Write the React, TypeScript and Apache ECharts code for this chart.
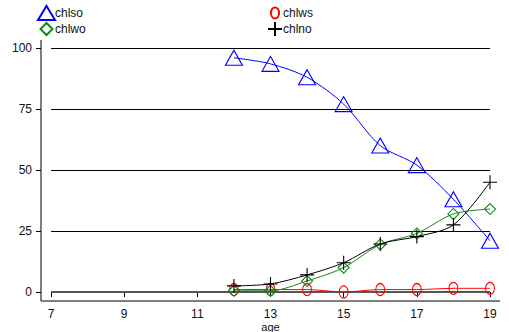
import React, { useEffect, useRef } from "react";
import * as echarts from "echarts";

const ages = [12, 13, 14, 15, 16, 17, 18, 19];
const chlso = [96, 93.5, 88, 77, 60, 52, 38, 21];
const chlws = [1, 1, 1, 0, 1, 1, 1.5, 1.5];
const chlwo = [0.5, 0.5, 4.5, 10, 19.5, 24, 32, 34];
const chlno = [2.5, 3.3, 7, 12, 19.7, 22.7, 27.5, 45];
const xTicks = [7, 9, 11, 13, 15, 17, 19];
const yTicks = [0, 25, 50, 75, 100];

const FONT = "Liberation Sans";
const PLUS = "path://M7,0L7,14M0,7L14,7";
const SMALL_CIRCLE = "path://M0,0M14,14M7,1.5A4,5.5 0 1 1 7,12.5A4,5.5 0 1 1 7,1.5Z";
const SMALL_DIAMOND = "path://M0,0M14,14M7,1L13,7L7,13L1,7Z";

function pts(v: number[]) {
  return ages.map((a, i) => [a, v[i]]);
}

export default function App() {
  const ref = useRef<HTMLDivElement>(null);
  useEffect(() => {
    const chart = echarts.init(ref.current!, null, { renderer: "svg" });
    const mk = (name: string, vals: number[], color: string, symbol: string, size: any, z: number) => ({
      name,
      type: "line",
      data: pts(vals),
      smooth: 0.3,
      symbol,
      symbolSize: size,
      z,
      showAllSymbol: true,
      lineStyle: { color, width: 1 },
      itemStyle: { color: "rgba(255,255,255,0)", borderColor: color, borderWidth: 1.1 },
      emphasis: { disabled: true },
    });
    const legendText = { fontSize: 12, color: "#111", fontFamily: FONT };
    chart.setOption({
      animation: false,
      backgroundColor: "#ffffff",
      textStyle: { fontFamily: FONT },
      grid: { left: 51, right: 19, top: 48, bottom: 40, outerBoundsMode: "none", containLabel: false },
      legend: [
        {
          data: [
            { name: "chlso", icon: "triangle" },
            { name: "chlwo", icon: SMALL_DIAMOND },
          ],
          orient: "vertical",
          left: 37,
          top: 5,
          padding: 0,
          itemGap: 0,
          itemWidth: 17,
          itemHeight: 14,
          textStyle: { ...legendText, padding: [2, 0, 0, -5] },
        },
        {
          data: [
            { name: "chlws", icon: SMALL_CIRCLE },
            { name: "chlno", icon: PLUS },
          ],
          orient: "vertical",
          left: 267,
          top: 5,
          padding: 0,
          itemGap: 0,
          itemWidth: 14,
          itemHeight: 14,
          textStyle: { ...legendText, padding: [2, 0, 0, -4] },
        },
      ],
      xAxis: {
        type: "value",
        min: xTicks[0],
        max: xTicks[xTicks.length - 1],
        interval: 2,
        offset: 9,
        name: "age",
        nameLocation: "middle",
        nameGap: 20,
        nameMoveOverlap: false,
        nameTextStyle: { fontSize: 11, color: "#111", fontFamily: FONT, verticalAlign: "top", lineHeight: 11 },
        axisLine: { show: false },
        axisTick: { show: true, length: 5, lineStyle: { color: "#000" } },
        axisLabel: { fontSize: 12, lineHeight: 12, color: "#111", margin: 7, fontFamily: FONT },
        splitLine: { show: false },
      },
      yAxis: {
        type: "value",
        min: yTicks[0],
        max: yTicks[yTicks.length - 1],
        interval: 25,
        offset: 10,
        axisLine: { show: false },
        axisTick: { show: true, length: 5, lineStyle: { color: "#000" } },
        axisLabel: { fontSize: 12, color: "#111", margin: 9, fontFamily: FONT },
        splitLine: { show: true, lineStyle: { color: "#000", width: 1 } },
      },
      graphic: [
        { type: "line", shape: { x1: 41, y1: 40, x2: 41, y2: 301 }, style: { stroke: "#000", lineWidth: 1 } },
        { type: "line", shape: { x1: 41, y1: 301, x2: 500, y2: 301 }, style: { stroke: "#000", lineWidth: 1 } },
      ],
      series: [
        {
          ...mk("chlws", chlws, "#ff0000", "circle", [9, 12], 3),
          markLine: {
            silent: true,
            symbol: "none",
            label: { show: false },
            lineStyle: { color: "#555", width: 2, type: "solid" },
            data: [{ yAxis: 0 }],
            z: 1,
          },
        },
        mk("chlso", chlso, "#0000ff", "triangle", [17, 15], 4),
        mk("chlwo", chlwo, "#118811", "diamond", [11, 11], 5),
        mk("chlno", chlno, "#000000", PLUS, [14, 14], 6),
      ],
    });
    return () => chart.dispose();
  }, []);
  return <div ref={ref} style={{ width: 509, height: 332, position: "absolute", left: 0, top: 0 }} />;
}
